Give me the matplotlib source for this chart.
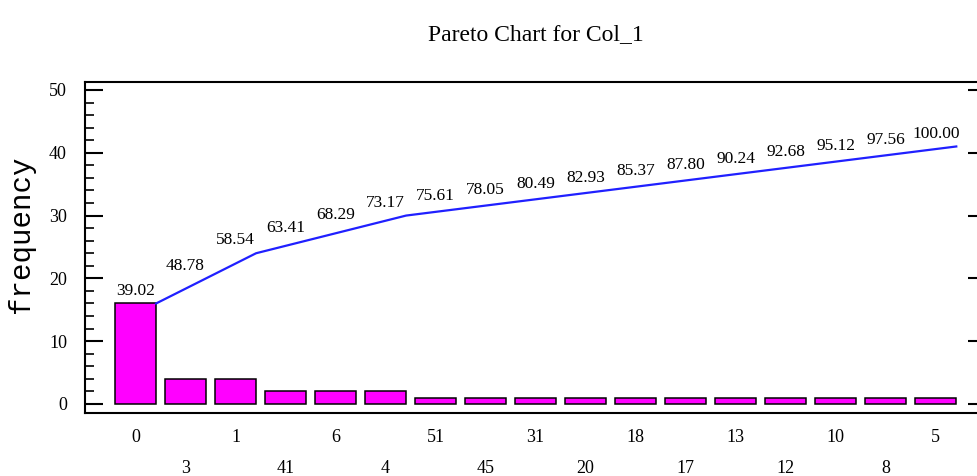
import matplotlib
matplotlib.use("Agg")
import matplotlib.pyplot as plt
import numpy as np
from matplotlib.ticker import MultipleLocator

# value counts of Col_1, already sorted in descending order
categories = ["0", "3", "1", "41", "6", "4", "51", "45", "31",
              "20", "18", "17", "13", "12", "10", "8", "5"]
counts = [16, 4, 4, 2, 2, 2, 1, 1, 1, 1, 1, 1, 1, 1, 1, 1, 1]

SERIF = "Liberation Serif"
BAR_W = 0.82

cum = np.cumsum(counts)
pct = cum / cum[-1] * 100
x = np.arange(len(categories))

fig = plt.figure(figsize=(9.77, 4.76), dpi=100)
ax = fig.add_axes([0.087, 0.1324, 0.922, 0.6954])

ax.bar(x, counts, width=BAR_W, color="#ff00ff", edgecolor="black",
       linewidth=1.1, zorder=2)

# cumulative curve runs through the top-right corner of each bar
ax.plot(x + BAR_W / 2, cum, color="#2020ff", linewidth=1.6, zorder=3)

for xi, yi, p in zip(x, cum, pct):
    ax.annotate(f"{p:.2f}", (xi, yi), xytext=(0, 3.5), textcoords="offset points",
                ha="center", va="bottom", fontsize=12.5, family=SERIF)

ax.set_xlim(-1.01, 17.0)
ax.set_ylim(-1.43, 51.27)

# two staggered rows of category labels
ax.set_xticks(x[::2], categories[::2])
ax.set_xticks(x[1::2], categories[1::2], minor=True)
ax.tick_params(axis="x", which="major", length=0, pad=11.5, labelsize=13)
ax.tick_params(axis="x", which="minor", length=0, pad=33.5, labelsize=13)

ax.yaxis.set_major_locator(MultipleLocator(10))
ax.yaxis.set_minor_locator(MultipleLocator(2))
ax.tick_params(axis="y", which="major", direction="in", length=13, width=1.5,
               right=True, pad=13, labelsize=13)
ax.tick_params(axis="y", which="minor", direction="in", length=6.5, width=1.2)
ax.tick_params(axis="y", which="minor", right=False)

for lab in ax.get_xticklabels(which="both") + ax.get_yticklabels():
    lab.set_family(SERIF)

for sp in ax.spines.values():
    sp.set_linewidth(1.5)

ax.set_ylabel("frequency", family="Liberation Mono", fontsize=21)
ax.yaxis.set_label_coords(-0.055, 0.54)
ax.set_title("Pareto Chart for Col_1", family=SERIF, fontsize=17, pad=30)

fig.savefig("out.png", dpi=100)
